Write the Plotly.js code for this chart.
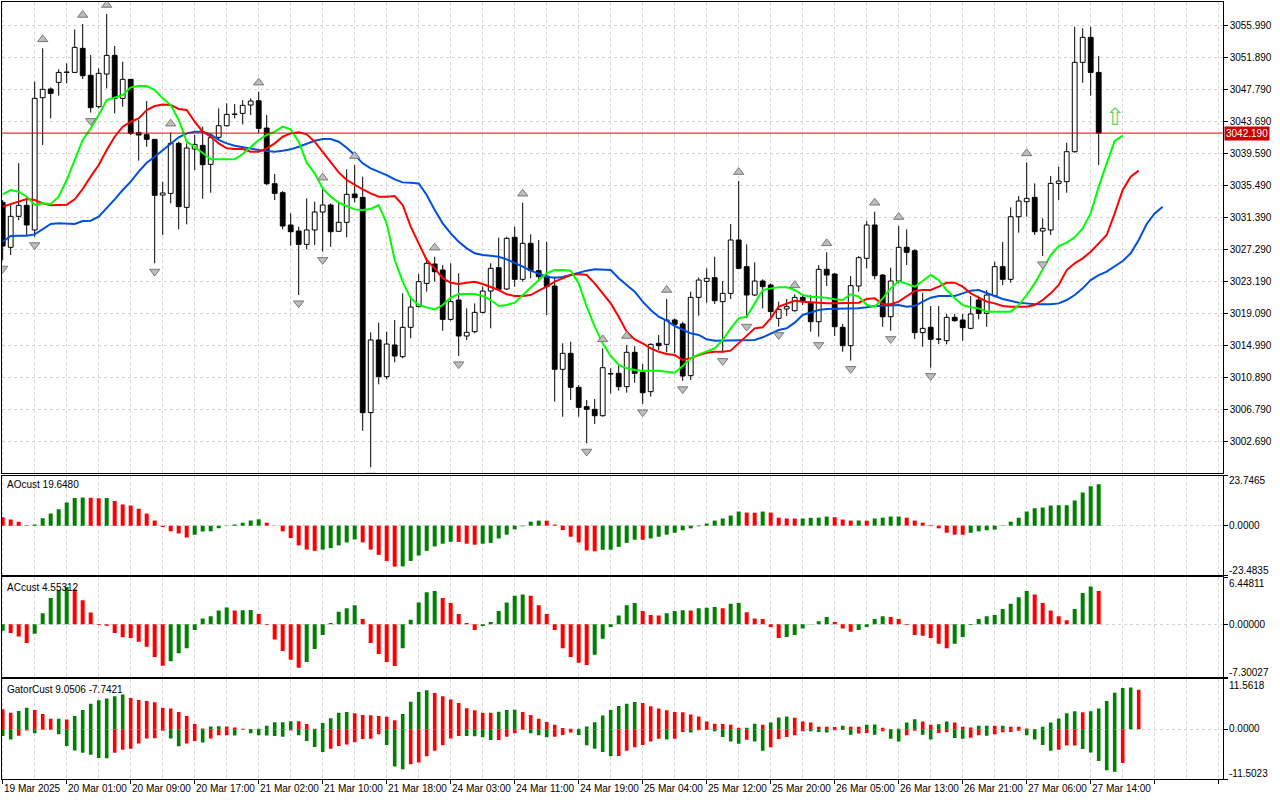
<!DOCTYPE html>
<html><head><meta charset="utf-8">
<script src="https://cdn.plot.ly/plotly-3.0.1.min.js"></script>
<style>html,body{margin:0;padding:0;background:#fff;}#chart{width:1280px;height:800px;}</style>
</head><body><div id="chart"></div>
<script>
const dateLabels = ["19 Mar 2025","20 Mar 01:00","20 Mar 09:00","20 Mar 17:00","21 Mar 02:00","21 Mar 10:00","21 Mar 18:00","24 Mar 03:00","24 Mar 11:00","24 Mar 19:00","25 Mar 04:00","25 Mar 12:00","25 Mar 20:00","26 Mar 05:00","26 Mar 13:00","26 Mar 21:00","27 Mar 06:00","27 Mar 14:00"];
const dateLabelBars = [0,8,16,24,32,40,48,56,64,72,80,88,96,104,112,120,128,136];
const priceTicks = [3002.69,3006.79,3010.89,3014.99,3019.09,3023.19,3027.29,3031.39,3035.49,3039.59,3043.69,3047.79,3051.89,3055.99];

const opens = [3033.32,3027.56,3031.53,3032.94,3029.78,3046.73,3047.84,3048.69,3049.97,3049.97,
3053.05,3049.59,3045.58,3049.76,3052.15,3046.64,3049.08,3042.25,3041.99,3041.39,
3034.26,3034.47,3040.88,3032.68,3040.15,3040.62,3038.19,3041.65,3043.14,3044.59,
3044.72,3045.79,3046.34,3042.84,3035.71,3034.56,3030.42,3029.65,3027.94,3029.78,
3032.08,3032.98,3029.61,3030.76,3034.39,3033.96,3006.38,3015.69,3010.99,3015.05,
3013.55,3017.31,3019.96,3022.94,3025.42,3024.65,3018.33,3020.81,3016.20,3016.75,
3019.23,3021.96,3024.95,3022.22,3028.84,3023.46,3028.07,3024.57,3023.88,3022.60,
3011.93,3013.98,3009.62,3007.15,3006.80,3005.99,3011.33,3011.42,3009.71,3014.11,
3011.54,3009.07,3015.26,3015.13,3018.25,3017.74,3011.12,3021.15,3023.20,3023.67,
3020.60,3021.66,3028.50,3025.08,3021.45,3023.24,3022.73,3018.46,3019.66,3019.44,
3021.15,3020.47,3018.03,3024.74,3024.14,3017.31,3014.96,3022.60,3026.15,3030.42,
3024.01,3018.67,3023.24,3027.56,3027.13,3016.63,3017.31,3015.77,3015.60,3018.59,
3018.25,3017.18,3020.81,3019.10,3021.37,3025.08,3023.46,3031.48,3033.41,3033.96,
3029.65,3029.78,3035.75,3035.97,3039.81,3051.26,3054.46,3049.97];
const highs = [3033.62,3033.19,3038.32,3034.05,3048.78,3053.05,3048.05,3050.36,3051.13,3055.48,
3056.17,3052.19,3050.49,3057.45,3053.35,3051.34,3049.10,3043.87,3046.30,3041.40,
3035.97,3042.25,3041.09,3040.88,3041.95,3043.01,3042.16,3045.36,3046.00,3045.92,
3046.43,3046.64,3047.50,3044.51,3036.95,3034.77,3031.91,3030.20,3033.83,3033.41,
3035.33,3033.19,3033.28,3037.55,3038.10,3036.61,3016.67,3017.91,3016.75,3018.25,
3021.66,3021.32,3024.14,3026.23,3026.36,3025.29,3025.51,3024.23,3019.74,3020.38,
3022.52,3025.51,3028.79,3028.92,3030.20,3033.28,3029.22,3028.50,3028.28,3023.80,
3015.26,3015.47,3009.92,3008.00,3008.13,3014.62,3012.06,3012.48,3015.05,3014.90,
3012.61,3015.26,3016.33,3020.94,3018.46,3018.03,3021.88,3023.71,3024.87,3026.36,
3023.24,3030.54,3036.05,3027.94,3025.64,3023.46,3022.94,3020.60,3020.94,3021.54,
3021.40,3021.45,3025.29,3026.92,3024.23,3017.74,3023.88,3026.45,3030.93,3032.12,
3024.10,3024.95,3030.29,3029.86,3027.30,3021.75,3020.04,3020.04,3019.02,3019.02,
3019.02,3021.32,3021.37,3022.09,3025.72,3028.24,3032.68,3034.13,3038.44,3035.75,
3031.27,3036.69,3037.89,3040.96,3055.82,3055.61,3055.82,3052.07];
const lows = [3025.90,3026.57,3031.06,3029.14,3028.90,3040.67,3044.08,3046.99,3048.56,3049.90,
3049.12,3044.81,3045.36,3047.92,3044.72,3045.58,3041.95,3038.66,3040.45,3025.51,
3029.14,3033.19,3029.86,3030.50,3037.46,3033.79,3034.56,3041.31,3043.01,3044.08,
3043.31,3044.51,3042.16,3035.54,3033.62,3029.86,3027.77,3021.45,3027.30,3027.86,
3027.00,3027.64,3029.56,3028.84,3033.32,3004.07,2999.37,3010.01,3010.65,3012.83,
3013.34,3015.90,3019.87,3021.88,3023.16,3016.88,3018.16,3013.64,3015.69,3016.54,
3019.10,3017.18,3022.09,3022.09,3022.52,3023.16,3023.59,3023.16,3018.89,3007.79,
3005.86,3008.00,3005.86,3002.45,3004.93,3005.86,3008.85,3009.20,3008.94,3010.22,
3007.49,3008.43,3014.40,3014.11,3013.98,3010.45,3010.56,3018.80,3020.47,3020.30,
3014.06,3020.94,3024.74,3018.46,3021.32,3019.74,3018.25,3017.39,3018.76,3019.32,
3020.17,3016.75,3016.11,3022.60,3016.20,3014.19,3013.04,3021.88,3024.87,3023.46,
3017.39,3016.88,3022.94,3025.29,3015.81,3014.83,3012.14,3015.17,3015.13,3018.03,
3015.60,3017.05,3018.33,3017.39,3021.24,3022.73,3023.03,3029.44,3031.48,3029.14,
3026.45,3029.14,3033.62,3034.56,3039.68,3048.65,3046.99,3038.10];
const closes = [3027.73,3031.53,3032.94,3030.42,3046.64,3047.80,3047.28,3049.97,3050.00,3053.18,
3049.55,3045.45,3049.85,3052.15,3046.64,3049.08,3042.16,3041.95,3041.39,3034.22,
3034.52,3040.88,3032.77,3040.28,3040.75,3038.15,3041.60,3043.14,3044.59,3044.62,
3045.75,3046.30,3042.80,3035.71,3034.47,3030.29,3029.56,3027.94,3029.78,3032.08,
3032.98,3029.56,3030.76,3034.35,3033.92,3006.38,3015.69,3010.99,3015.17,3013.64,
3017.31,3019.91,3023.16,3025.51,3024.44,3018.33,3020.60,3016.20,3016.67,3019.23,
3021.96,3024.87,3022.18,3028.71,3023.46,3028.07,3024.57,3023.80,3022.52,3011.93,
3013.98,3009.62,3007.06,3006.80,3005.99,3012.14,3011.37,3009.71,3014.11,3011.42,
3008.94,3015.13,3014.96,3018.25,3017.69,3011.07,3021.15,3023.37,3023.59,3020.72,
3021.66,3028.50,3024.87,3021.45,3023.24,3022.52,3019.32,3019.61,3019.96,3021.15,
3020.72,3018.03,3024.74,3024.01,3017.39,3014.96,3022.65,3026.23,3030.42,3023.93,
3018.67,3023.24,3027.56,3026.92,3016.63,3017.18,3015.77,3015.82,3018.59,3018.16,
3017.27,3019.02,3019.10,3021.45,3025.08,3023.46,3031.48,3033.49,3033.83,3029.56,
3029.99,3035.75,3036.05,3039.81,3051.26,3054.46,3049.97,3042.19];

const lips = [3034.35,3034.90,3034.69,3034.05,3032.98,3033.19,3033.11,3034.05,3036.18,3038.74,
3041.31,3042.80,3044.51,3046.43,3046.77,3047.07,3048.05,3048.22,3048.22,3047.71,
3046.64,3045.79,3043.87,3041.09,3040.45,3039.60,3038.83,3038.83,3038.83,3038.83,
3039.51,3040.45,3041.31,3041.95,3042.37,3043.01,3042.67,3041.09,3038.40,3037.04,
3035.11,3034.05,3033.28,3032.85,3032.42,3032.34,3032.47,3032.98,3030.63,3025.93,
3023.16,3021.02,3020.17,3019.87,3019.61,3020.17,3021.11,3021.58,3021.58,3021.58,
3021.32,3020.81,3020.04,3020.17,3020.47,3021.45,3022.43,3023.37,3024.23,3024.65,
3024.65,3024.57,3022.94,3019.96,3017.39,3015.26,3013.64,3012.48,3012.06,3011.84,
3011.76,3011.76,3011.76,3011.63,3011.50,3012.36,3013.34,3013.85,3014.19,3014.62,
3015.69,3017.18,3018.46,3018.67,3020.38,3022.09,3022.30,3022.43,3022.43,3022.09,
3021.45,3021.24,3021.15,3021.11,3020.90,3020.81,3021.54,3021.24,3020.17,3019.96,
3021.02,3022.30,3023.24,3022.86,3022.52,3023.24,3024.01,3023.37,3022.09,3021.02,
3020.17,3019.87,3019.74,3019.32,3019.32,3019.32,3019.32,3020.17,3021.45,3022.94,
3024.74,3026.57,3027.73,3028.16,3028.84,3029.99,3031.91,3035.33,3038.32,3041.18,
3041.86];
const teeth = [3032.77,3033.11,3033.41,3033.75,3033.62,3033.19,3032.94,3032.98,3033.02,3033.71,
3035.03,3036.61,3038.10,3040.02,3041.73,3043.01,3043.65,3044.08,3045.15,3045.66,
3045.87,3045.79,3045.28,3045.15,3043.65,3042.37,3041.73,3040.88,3040.24,3040.15,
3040.15,3039.81,3039.81,3040.24,3040.88,3041.73,3042.16,3042.29,3042.03,3041.09,
3039.81,3038.53,3037.16,3036.18,3035.54,3034.99,3034.47,3034.05,3034.05,3034.13,
3032.98,3030.20,3028.07,3025.93,3024.87,3023.59,3023.03,3022.86,3023.03,3023.16,
3022.86,3022.52,3022.09,3021.54,3021.32,3021.32,3021.45,3022.01,3022.52,3023.16,
3023.59,3024.01,3024.14,3024.01,3022.94,3021.66,3020.38,3018.67,3016.75,3015.77,
3015.26,3014.62,3014.19,3013.89,3013.76,3013.12,3013.34,3013.76,3014.06,3014.19,
3014.19,3014.32,3015.26,3016.33,3017.18,3017.31,3018.46,3019.96,3020.38,3020.72,
3020.60,3020.51,3020.38,3020.38,3020.38,3020.38,3020.38,3020.47,3020.94,3021.02,
3020.30,3020.26,3020.60,3021.24,3021.96,3022.09,3022.09,3022.52,3023.03,3023.03,
3022.52,3021.66,3021.11,3020.60,3020.38,3020.04,3019.96,3019.96,3019.96,3020.17,
3020.81,3021.66,3022.73,3024.65,3025.51,3026.15,3027.00,3028.07,3029.14,3031.91,
3034.90,3036.61,3037.38];
const jaw = [3028.28,3029.01,3029.05,3029.05,3029.22,3029.91,3030.55,3030.63,3030.63,3030.55,
3030.93,3030.97,3031.48,3032.55,3033.71,3034.90,3035.97,3037.25,3038.40,3039.17,
3040.02,3040.88,3041.65,3042.16,3042.37,3042.37,3042.03,3041.31,3040.88,3040.58,
3040.37,3040.15,3040.02,3039.90,3039.81,3039.94,3040.11,3040.45,3040.88,3041.22,
3041.43,3041.43,3041.09,3040.32,3039.38,3038.32,3037.68,3037.25,3036.82,3036.27,
3035.88,3035.84,3035.75,3034.26,3032.34,3030.63,3029.35,3028.28,3027.43,3026.79,
3026.57,3026.49,3026.36,3026.02,3025.59,3025.08,3024.57,3024.14,3023.80,3023.67,
3023.76,3024.01,3024.31,3024.57,3024.74,3024.74,3024.65,3023.59,3022.73,3021.88,
3020.60,3019.53,3018.67,3018.16,3017.48,3016.97,3016.54,3016.33,3015.77,3015.60,
3015.60,3015.69,3015.69,3015.69,3015.69,3016.03,3016.54,3016.97,3017.18,3017.91,
3018.89,3019.23,3019.53,3019.66,3019.66,3019.66,3019.74,3019.74,3019.87,3020.04,
3020.08,3020.17,3020.17,3019.96,3020.04,3020.60,3021.11,3021.32,3021.32,3021.32,
3021.66,3022.01,3022.09,3021.75,3021.32,3020.94,3020.68,3020.47,3020.38,3020.26,
3020.26,3020.26,3020.38,3020.81,3021.45,3022.30,3023.37,3024.01,3024.44,3025.08,
3025.81,3026.79,3028.50,3030.55,3031.91,3032.77];

const ao = [4.0,2.9,1.9,0.16,0.5,3.5,5.8,7.8,11.0,13.1,
13.4,13.3,13.0,13.1,11.7,10.1,9.6,8.0,5.8,2.4,
-0.6,-2.7,-3.8,-5.6,-4.3,-2.8,-2.7,-1.3,-0.2,0.5,
1.4,2.4,3.0,1.4,-0.1,-2.7,-5.9,-9.4,-11.4,-12.0,
-11.4,-10.7,-9.4,-8.0,-6.6,-8.0,-11.4,-13.9,-16.8,-19.5,
-19.4,-16.8,-14.2,-12.0,-9.9,-8.6,-7.7,-7.75,-8.6,-9.1,
-8.6,-8.2,-6.1,-4.3,-1.8,-0.3,1.9,2.4,2.35,0.5,
-2.1,-5.3,-8.0,-11.8,-12.2,-11.5,-11.45,-10.1,-8.2,-6.7,
-6.75,-6.1,-5.3,-4.3,-3.4,-2.2,-1.3,-0.3,1.0,2.4,
3.4,4.8,6.7,6.2,6.15,6.7,6.2,3.8,3.4,3.35,
3.4,3.7,3.8,4.3,4.0,2.9,2.4,2.45,2.35,3.4,
3.8,4.3,4.35,3.8,2.4,1.4,0.3,-1.3,-3.4,-4.3,
-4.35,-3.4,-2.7,-2.2,-1.9,-0.2,1.9,3.8,6.7,8.3,
8.6,9.6,9.65,9.7,12.0,15.8,18.7,19.648];
const ac = [-0.9,-1.2,-1.7,-2.6,-1.3,1.5,3.6,4.7,5.1,4.8,
3.3,1.6,-0.1,-0.2,-1.2,-1.8,-1.9,-2.4,-3.1,-4.5,
-5.7,-5.1,-4.0,-3.3,-0.8,0.8,1.1,1.9,2.3,1.9,
1.93,1.95,1.4,-0.1,-2.1,-3.7,-4.9,-6.0,-5.2,-3.4,
-1.5,0.15,1.7,2.2,2.6,0.7,-2.6,-4.1,-5.2,-5.75,
-3.3,0.6,3.0,4.4,4.55,3.6,2.9,1.4,0.15,-0.8,
-0.25,0.3,1.8,3.0,3.9,4.1,3.9,2.6,1.4,-0.8,
-3.3,-4.5,-5.3,-5.6,-4.2,-2.0,-0.4,1.2,2.6,2.9,
1.8,1.25,1.2,1.5,1.8,1.93,1.9,2.2,2.25,2.35,
2.2,2.8,2.9,1.65,0.8,0.7,-0.4,-1.9,-1.75,-1.5,
-0.6,-0.05,0.4,1.0,0.3,-0.6,-1.05,-0.8,-0.4,0.7,
1.1,1.0,0.7,-0.1,-1.5,-1.6,-1.9,-2.7,-3.3,-2.7,
-1.75,-0.1,0.7,1.1,1.25,2.1,2.8,3.7,4.55,4.1,
2.9,1.9,1.1,0.55,2.1,4.3,5.2,4.55312];
const gatorUp = [4.56,3.78,4.17,4.88,4.41,3.46,2.36,2.40,2.20,2.99,
4.41,5.82,6.61,7.00,7.56,7.95,7.16,6.69,6.45,6.14,
4.88,4.72,3.94,2.99,1.18,0.16,0.63,0.65,0.60,0.39,
0.08,0.05,0.10,0.79,1.57,1.60,1.81,1.78,1.18,0.10,
1.42,2.52,3.78,3.94,3.62,3.23,3.20,2.99,2.83,2.05,
3.46,6.30,8.50,8.89,8.26,7.56,6.77,5.98,4.80,4.33,
3.78,3.75,4.01,4.41,4.45,3.94,3.23,2.36,1.65,1.02,
0.24,0.08,0.10,0.63,1.57,3.15,4.40,5.30,5.82,6.22,
5.98,5.27,4.72,4.33,3.94,3.86,3.38,2.91,1.73,1.26,
1.18,1.02,0.31,0.33,1.26,1.02,1.50,2.68,2.91,2.60,
1.73,1.50,0.55,0.53,0.50,0.79,0.55,0.52,1.02,1.05,
0.31,0.05,0.10,1.50,2.28,1.73,1.02,1.10,1.73,1.50,
0.55,0.39,0.79,0.80,0.78,0.80,0.55,0.53,0.16,0.05,
0.55,1.50,2.44,3.62,4.09,3.86,4.10,4.72,6.45,8.34,
9.44,9.52,9.0506];
const gatorDn = [-1.57,-2.36,-1.50,-0.31,-0.94,-0.16,-0.14,-1.18,-3.86,-4.88,
-5.43,-5.90,-6.61,-6.65,-5.43,-4.72,-4.49,-3.31,-2.12,-2.10,
-0.39,-2.12,-3.94,-3.31,-2.75,-3.07,-2.12,-1.42,-1.42,-1.45,
-0.16,-0.94,-1.42,-1.45,-1.57,-1.73,-0.31,-1.42,-2.75,-4.09,
-5.27,-4.49,-3.86,-3.54,-2.99,-2.28,-2.20,-1.18,-3.62,-8.58,
-9.21,-8.03,-7.63,-6.22,-4.96,-3.70,-2.12,-1.57,-1.60,-1.62,
-1.89,-2.52,-2.50,-1.73,-0.94,-0.16,-0.94,-1.42,-1.89,-1.73,
-1.34,-0.79,-1.34,-3.70,-4.49,-5.27,-6.20,-6.15,-4.96,-4.17,
-3.62,-2.83,-2.20,-2.36,-2.20,-0.63,-0.79,-0.24,-0.22,-0.47,
-1.81,-2.83,-3.38,-2.44,-2.83,-4.96,-4.17,-2.28,-1.81,-1.42,
-0.47,-0.50,-0.63,-0.79,-0.24,-0.22,-1.26,-1.02,-0.87,-1.26,
-0.47,-2.20,-2.83,-1.42,-0.39,-1.26,-2.36,-0.87,-0.71,-2.05,
-2.20,-1.97,-1.42,-1.50,-1.18,-0.71,-0.63,-0.39,-1.42,-2.36,
-3.62,-4.96,-4.72,-3.78,-3.75,-4.56,-5.35,-7.32,-9.44,-9.76,
-7.7421];

const fractalUpBars = [5,10,13,21,32,40,44,54,65,75,78,83,92,99,103,109,112,128];
const fractalDownBars = [0,4,11,19,37,40,46,57,73,80,85,90,93,97,102,106,111,116,130];
const signalBars = [139];
const signalPrices = [3044.2];
const lastPrice = 3042.19;
const aoTitle = "AOcust 19.6480";
const acTitle = "ACcust 4.55312";
const gatorTitle = "GatorCust 9.0506 -7.7421";
const aoRange = [-23.4835, 23.7465];
const acRange = [-7.30027, 6.44811];
const gatorRange = [-11.5023, 11.5618];

// ---------- build ----------
const GREEN = '#008000', RED = '#ff0000';
const FONT = 'Liberation Sans, Arial, sans-serif';
const FS = 10;
const GRID = '#d6d6d6';
const range = a => a.map((_, i) => i);
const N = opens.length;

const wx = [], wy = [];
for (let i = 0; i < N; i++) {
  const top = Math.max(opens[i], closes[i]), bot = Math.min(opens[i], closes[i]);
  wx.push(i, i, null, i, i, null);
  wy.push(highs[i], top, null, bot, lows[i], null);
}
const bodyBase = opens.map((o, i) => Math.min(o, closes[i]));
const bodyH = opens.map((o, i) => Math.max(Math.abs(closes[i] - o), 0.05));
const bodyCol = opens.map((o, i) => closes[i] >= o ? '#ffffff' : '#000000');

function trendColors(vals, first) {
  return vals.map((v, i) => i === 0 ? first : (v > vals[i - 1] ? GREEN : RED));
}
function absTrendColors(vals, first) {
  return vals.map((v, i) => i === 0 ? first : (Math.abs(v) > Math.abs(vals[i - 1]) ? GREEN : RED));
}

const traces = [
  {type:'scatter', mode:'lines', x:wx, y:wy, xaxis:'x', yaxis:'y', line:{color:'#000', width:1}, hoverinfo:'skip'},
  {type:'bar', x:range(opens), y:bodyH, base:bodyBase, width:0.6, xaxis:'x', yaxis:'y',
   marker:{color:bodyCol, line:{color:'#000', width:1}}},
  {type:'scatter', mode:'lines', x:range(jaw), y:jaw, xaxis:'x', yaxis:'y', line:{color:'#0050dc', width:2}},
  {type:'scatter', mode:'lines', x:range(teeth), y:teeth, xaxis:'x', yaxis:'y', line:{color:'#ff0000', width:2}},
  {type:'scatter', mode:'lines', x:range(lips), y:lips, xaxis:'x', yaxis:'y', line:{color:'#00ff00', width:2}},
  {type:'scatter', mode:'markers', x:fractalUpBars, y:fractalUpBars.map(i => highs[i] + 1.15), xaxis:'x', yaxis:'y',
   marker:{symbol:'triangle-up', size:9, color:'#bdbdbd', line:{color:'#7a7a7a', width:1}}},
  {type:'scatter', mode:'markers', x:fractalDownBars, y:fractalDownBars.map(i => lows[i] - 1.05), xaxis:'x', yaxis:'y',
   marker:{symbol:'triangle-down', size:9, color:'#bdbdbd', line:{color:'#7a7a7a', width:1}}},
  {type:'bar', x:range(ao), y:ao, width:0.5, xaxis:'x2', yaxis:'y2', marker:{color:trendColors(ao, RED)}},
  {type:'bar', x:range(ac), y:ac, width:0.5, xaxis:'x3', yaxis:'y3', marker:{color:trendColors(ac, GREEN)}},
  {type:'bar', x:range(gatorUp), y:gatorUp, width:0.45, xaxis:'x4', yaxis:'y4', marker:{color:trendColors(gatorUp, RED)}},
  {type:'bar', x:range(gatorDn), y:gatorDn, width:0.45, xaxis:'x4', yaxis:'y4', marker:{color:absTrendColors(gatorDn, GREEN)}}
];

const XD = [1.5/1280, 1222.7/1280];
const XR = [-0.15, 152.5];
const py = p => 1 - p/800;
function xax(anchor, bottom) {
  return {domain:XD, range:XR, anchor:anchor, showline:true, mirror:true, linecolor:'#000', linewidth:1,
    tickmode:'linear', tick0:0, dtick:8, showticklabels:false, ticks: bottom ? 'outside' : '', ticklen:4, tickcolor:'#000',
    showgrid:true, gridcolor:GRID, griddash:'3px,3px', zeroline:false,
    minor:{tick0:0, dtick:4, showgrid:true, gridcolor:GRID, griddash:'3px,3px', ticks:''}};
}
function subY(anchor, dom, rng) {
  return {domain:dom, range:rng, anchor:anchor, side:'right', showline:true, mirror:true, linecolor:'#000', linewidth:1,
    tickmode:'array', tickvals:[rng[0], 0, rng[1]], showticklabels:false, ticks:'outside', ticklen:4, tickcolor:'#000',
    showgrid:true, gridcolor:GRID, griddash:'3px,3px', zeroline:false};
}

const layout = {
  width:1280, height:800, margin:{l:0, r:0, t:0, b:0}, paper_bgcolor:'#fff', plot_bgcolor:'#fff',
  showlegend:false, hovermode:false, barmode:'overlay', font:{family:FONT, size:FS, color:'#000'},
  xaxis: xax('y', false),
  yaxis: {domain:[py(473.3), py(2.3)], range:[2998.61, 3058.95], anchor:'x', side:'right', showline:true, mirror:true,
    linecolor:'#000', linewidth:1, tickmode:'array', tickvals:priceTicks, ticktext:priceTicks.map(v => v.toFixed(3)),
    ticks:'outside', ticklen:4, tickcolor:'#000', tickfont:{family:FONT, size:FS, color:'#000'},
    showgrid:true, gridcolor:GRID, griddash:'3px,3px', zeroline:false},
  xaxis2: xax('y2', false),
  yaxis2: subY('x2', [py(575), py(475.7)], aoRange),
  xaxis3: xax('y3', false),
  yaxis3: subY('x3', [py(677.3), py(577.3)], acRange),
  xaxis4: xax('y4', true),
  yaxis4: subY('x4', [py(779.3), py(678.7)], gatorRange),
  shapes: [
    {type:'line', xref:'paper', x0:XD[0], x1:XD[1], yref:'y', y0:lastPrice, y1:lastPrice, line:{color:'#e00000', width:1}, layer:'above'}
  ],
  annotations: []
};

const A = layout.annotations;
A.push({xref:'paper', x:1224/1280, xanchor:'left', yref:'y', y:lastPrice, yanchor:'middle', text:lastPrice.toFixed(3),
  showarrow:false, bgcolor:'#cc0000', font:{family:FONT, size:FS, color:'#fff'}, borderpad:1});
signalBars.forEach((b, k) => A.push({xref:'x', x:b, yref:'y', y:signalPrices[k], text:'\u21E7', showarrow:false,
  font:{family:'DejaVu Sans', size:24, color:'#5fd35f'}}));
[[aoTitle, 484.5], [acTitle, 587], [gatorTitle, 689]].forEach(([t, p]) =>
  A.push({xref:'paper', x:5/1280, xanchor:'left', yref:'paper', y:py(p), yanchor:'middle', text:t, showarrow:false,
    font:{family:FONT, size:FS, color:'#000'}}));
const sideLabels = [
  [aoRange[1].toFixed(4), 480.7], ['0.0000', 525.3], [aoRange[0].toFixed(4), 570.5],
  [acRange[1].toFixed(5), 583], ['0.00000', 624], [acRange[0].toFixed(5), 672.3],
  [gatorRange[1].toFixed(4), 685], ['0.0000', 728.6], [gatorRange[0].toFixed(4), 773.3]
];
sideLabels.forEach(([t, p]) => A.push({xref:'paper', x:1227/1280, xanchor:'left', yref:'paper', y:py(p), yanchor:'middle',
  text:t, showarrow:false, font:{family:FONT, size:FS, color:'#000'}}));
dateLabels.forEach((t, k) => A.push({xref:'x4', x:dateLabelBars[k], xanchor:'left', yref:'paper', y:py(788.5), yanchor:'middle',
  text:t, showarrow:false, xshift:-1, font:{family:FONT, size:FS, color:'#000'}}));

Plotly.newPlot('chart', traces, layout, {staticPlot:true, displayModeBar:false});
</script>
</body></html>
